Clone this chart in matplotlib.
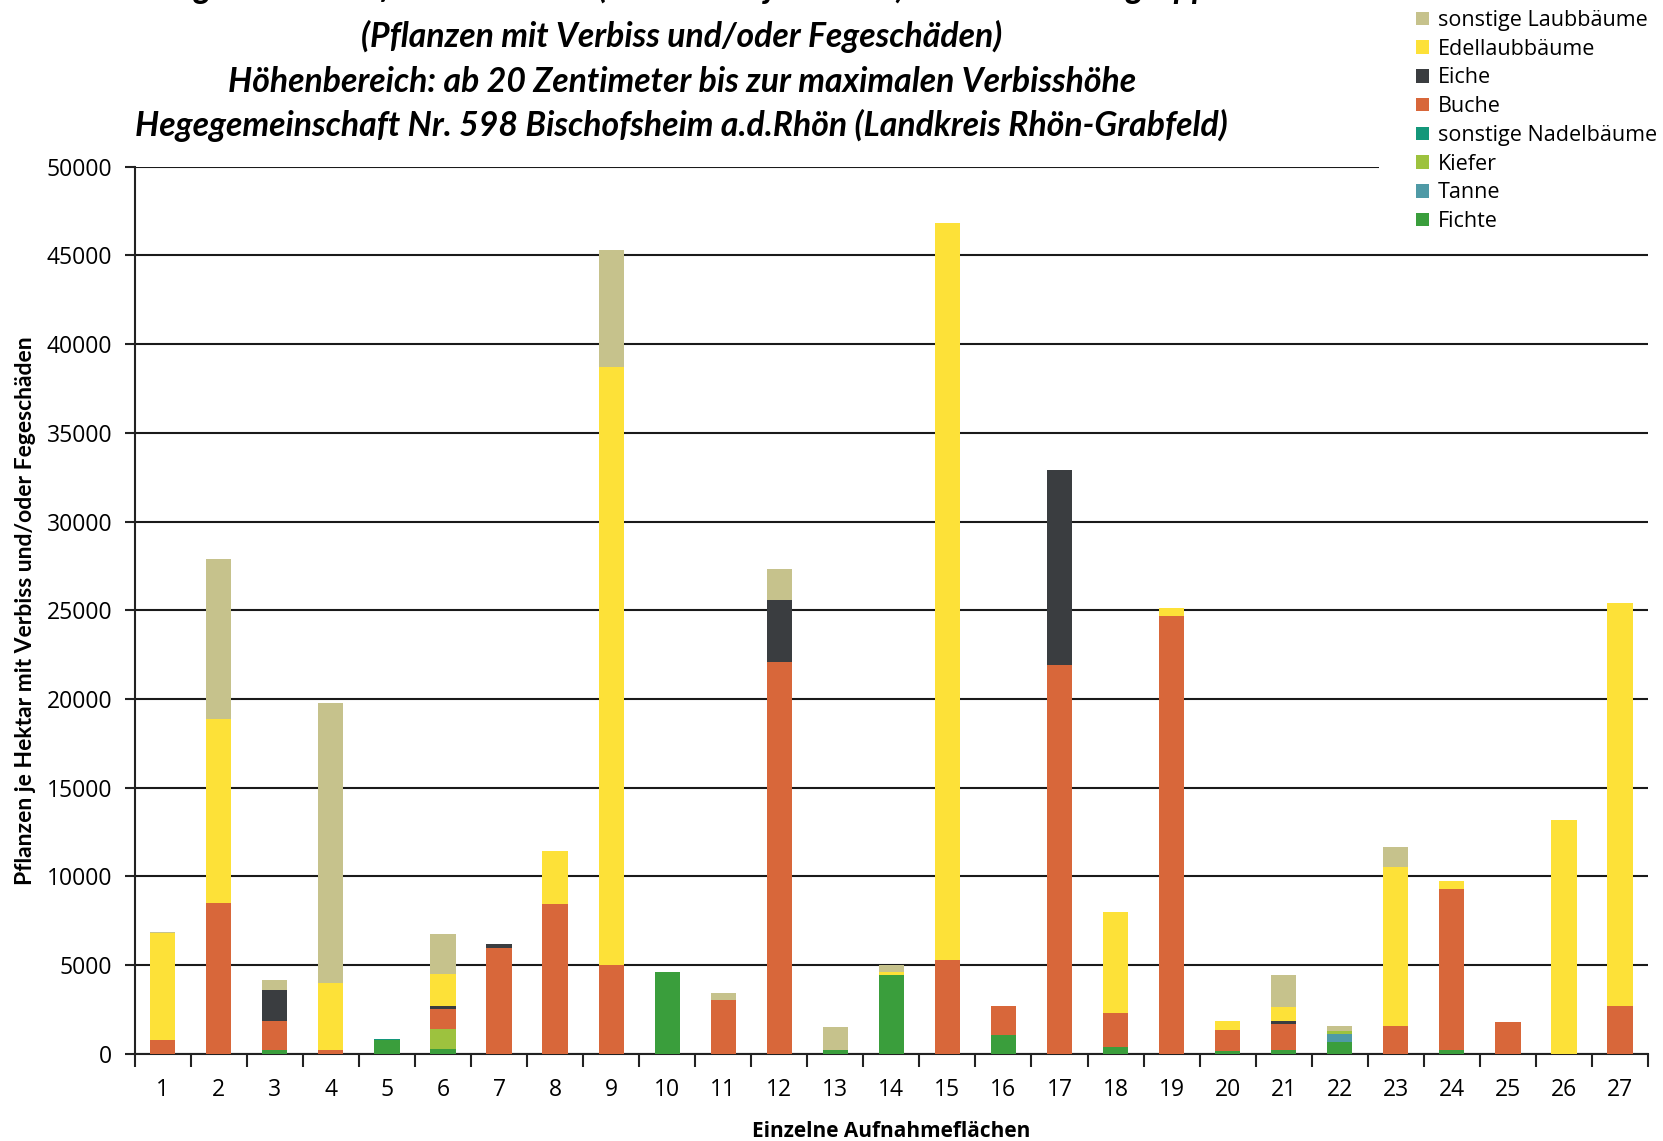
import matplotlib
matplotlib.use("Agg")
import matplotlib.pyplot as plt
import numpy as np
from matplotlib.patches import Patch, Rectangle

# Aufnahmeflächen 1..27
flaechen = list(range(1, 28))

# Pflanzen je Hektar mit Verbiss und/oder Fegeschäden, je Baumartengruppe
fichte = [0, 0, 250, 0, 770, 300, 0, 0, 0, 4600, 0, 0, 250, 4450, 0, 1050, 0, 400, 0, 150, 250, 650, 0, 200, 0, 0, 0]
tanne = [0, 0, 0, 0, 0, 0, 0, 0, 0, 0, 0, 0, 0, 0, 0, 0, 0, 0, 0, 0, 0, 500, 0, 0, 0, 0, 0]
kiefer = [0, 0, 0, 0, 0, 1100, 0, 0, 0, 0, 0, 0, 0, 0, 0, 0, 0, 0, 0, 0, 0, 150, 0, 0, 0, 0, 0]
sonst_nadel = [0, 0, 0, 0, 80, 0, 0, 0, 0, 0, 0, 0, 0, 0, 0, 0, 0, 0, 0, 0, 0, 0, 0, 0, 0, 0, 0]
buche = [800, 8500, 1600, 250, 0, 1150, 5950, 8450, 5000, 0, 3050, 22100, 0, 0, 5300, 1650, 21900, 1900, 24700, 1200, 1450, 0, 1600, 9100, 1800, 0, 2700]
eiche = [0, 0, 1750, 0, 0, 170, 270, 0, 0, 0, 0, 3500, 0, 0, 0, 0, 11000, 0, 0, 0, 150, 0, 0, 0, 0, 0, 0]
edellaub = [6000, 10400, 0, 3750, 0, 1800, 0, 3000, 33700, 0, 0, 0, 0, 150, 41500, 0, 0, 5700, 450, 530, 770, 0, 8950, 470, 0, 13200, 22700]
sonst_laub = [50, 9000, 550, 15750, 0, 2250, 0, 0, 6600, 0, 400, 1750, 1250, 400, 0, 0, 0, 0, 0, 0, 1800, 280, 1100, 0, 0, 0, 0]

# von unten nach oben gestapelt
reihen = [
    ("Fichte", fichte, "#3a9e3c"),
    ("Tanne", tanne, "#4f9aa6"),
    ("Kiefer", kiefer, "#9dc23e"),
    ("sonstige Nadelbäume", sonst_nadel, "#14977a"),
    ("Buche", buche, "#d8673a"),
    ("Eiche", eiche, "#3a3d40"),
    ("Edellaubbäume", edellaub, "#fde138"),
    ("sonstige Laubbäume", sonst_laub, "#c6c28c"),
]

schmal = ["Lato", "DejaVu Sans"]
plt.rcParams["font.family"] = ["Open Sans", "DejaVu Sans"]

fig = plt.figure(figsize=(16.63, 11.41), dpi=100)
ax = fig.add_axes([0.081, 0.0763, 0.910, 0.7777])

x = np.array(flaechen)
unten = np.zeros(len(x))
for name, werte, farbe in reihen:
    ax.bar(x, werte, width=0.45, bottom=unten, color=farbe, label=name, zorder=3)
    unten += np.array(werte)

ax.set_xlim(0.5, 27.5)
ax.set_ylim(0, 50000)
ax.set_yticks(range(0, 50001, 5000))
ax.yaxis.grid(True, color="#1a1a1a", linewidth=1.5, zorder=0)
ax.set_axisbelow(True)

for s in ["top", "right"]:
    ax.spines[s].set_visible(False)
for s in ["left", "bottom"]:
    ax.spines[s].set_color("#222222")
    ax.spines[s].set_linewidth(1.5)

# Beschriftungen mittig, Teilstriche zwischen den Flächen
ax.set_xticks(x)
ax.set_xticklabels([str(f) for f in flaechen])
ax.set_xticks(np.arange(0.5, 28, 1), minor=True)
ax.tick_params(axis="x", which="major", length=0, pad=17, labelsize=16.5)
ax.tick_params(axis="x", which="minor", length=9, width=1.5, direction="out", color="#222222")
ax.tick_params(axis="y", length=7, width=1.5, color="#222222", pad=9, labelsize=16.5)

ax.set_xlabel("Einzelne Aufnahmeflächen", fontsize=15, fontweight="bold", labelpad=14)
ax.set_ylabel("Pflanzen je Hektar mit Verbiss und/oder Fegeschäden", fontsize=16.5,
              fontweight="bold", family=schmal, labelpad=8)

titel = [
    "Hochgerechnete Pflanzendichten (Individuen je Hektar) der Baumartengruppen",
    "(Pflanzen mit Verbiss und/oder Fegeschäden)",
    "Höhenbereich: ab 20 Zentimeter bis zur maximalen Verbisshöhe",
    "Hegegemeinschaft Nr. 598 Bischofsheim a.d.Rhön (Landkreis Rhön-Grabfeld)",
]
zeilen_y = [1.011, 0.968, 0.928, 0.890]
for text, yy in zip(titel, zeilen_y):
    fig.text(0.41, yy, text, ha="center", va="center", fontsize=24.3,
             fontweight="bold", style="italic", family=schmal)

# weißer Hintergrund der Legende bis zum rechten Rand
fig.patches.append(Rectangle((0.829, 0.80), 0.171, 0.20, transform=fig.transFigure,
                             facecolor="white", edgecolor="none", zorder=4))

handles = [Patch(facecolor=f, label=n) for n, w, f in reversed(reihen)]
leg = fig.legend(handles=handles, loc="upper left", bbox_to_anchor=(0.848, 0.996),
                 frameon=False, fontsize=15.5, handlelength=0.6, handleheight=0.6,
                 handletextpad=0.45, labelspacing=0.36, borderpad=0.25,
                 borderaxespad=0)
leg.set_zorder(10)

fig.savefig("out.png", dpi=100)
